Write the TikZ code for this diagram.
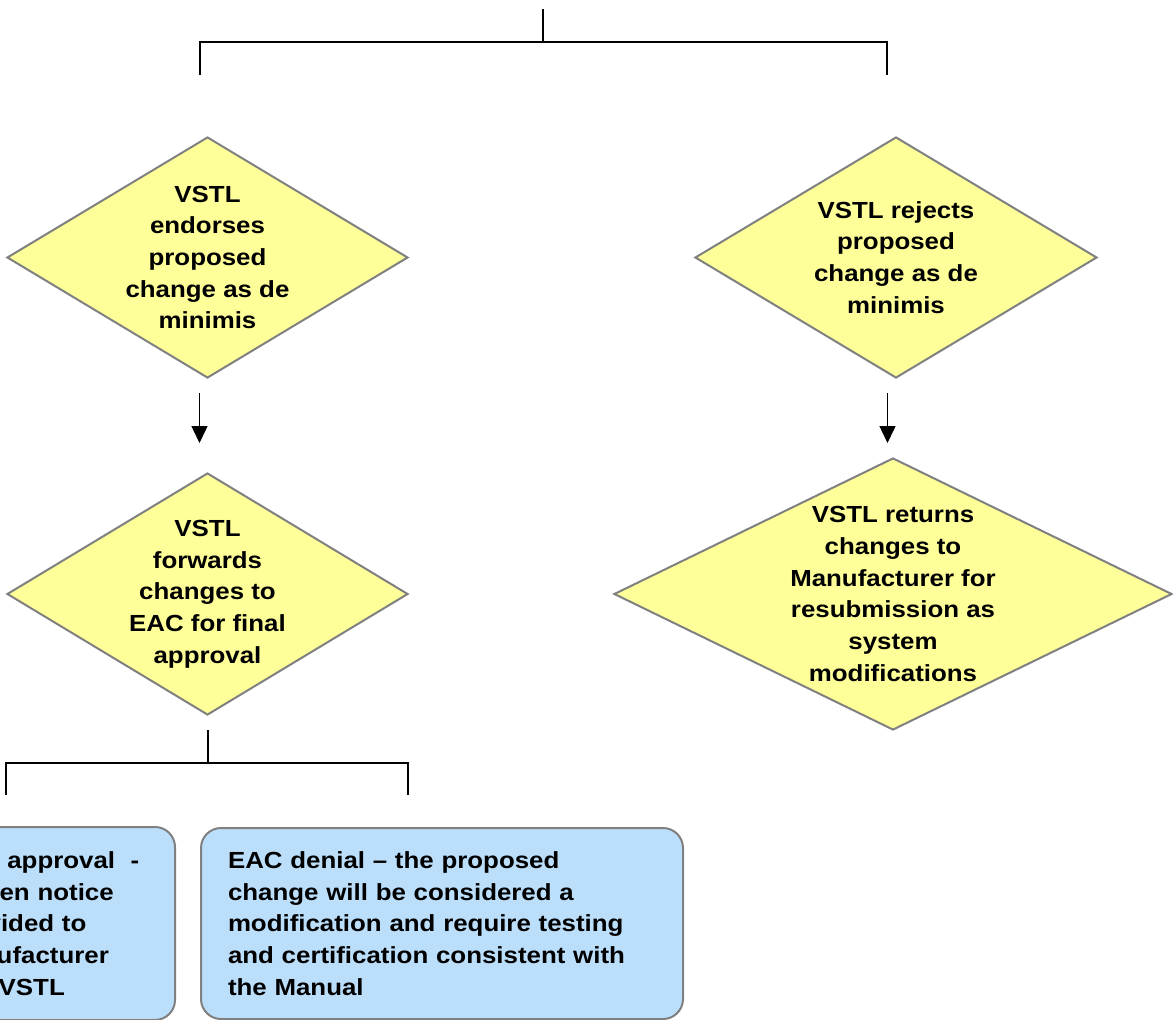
\documentclass[tikz,border=0pt]{standalone}
\usepackage{fontspec}
\setmainfont[FakeStretch=1.11]{Liberation Sans}
\usetikzlibrary{shapes.geometric,arrows.meta}
\definecolor{dfill}{RGB}{255,255,153}
\definecolor{bfill}{RGB}{187,222,251}
\definecolor{edgegray}{RGB}{128,128,128}
\begin{document}
\begin{tikzpicture}[x=1pt,y=-1pt,
  txt/.style={font=\bfseries\fontsize{23.3}{31.7}\selectfont},
  dec/.style={diamond, draw=edgegray, fill=dfill, line width=2pt, inner sep=0pt},
  res/.style={rectangle, rounded corners=20pt, draw=edgegray, fill=bfill, line width=2pt,
    inner sep=0pt, txt, align=left, anchor=north west},
  conn/.style={line width=1.5pt, black, line join=miter},
  arr/.style={conn, -{Triangle[length=17pt,width=16pt]}}]
\useasboundingbox (0,0) rectangle (1173,1020);
\clip (0,0) rectangle (1173,1020);

% decision diamonds
\node[dec, minimum width=401pt, minimum height=241pt,
  label={[txt,align=center]center:VSTL\\endorses\\proposed\\change as de\\minimis}]
  (d1) at (207.5,257.5) {};
\node[dec, minimum width=402pt, minimum height=241pt,
  label={[txt,align=center]center:VSTL rejects\\proposed\\change as de\\minimis}]
  (d2) at (896,257.5) {};
\node[dec, minimum width=401pt, minimum height=242pt,
  label={[txt,align=center]center:VSTL\\forwards\\changes to\\EAC for final\\approval}]
  (d3) at (207.5,594) {};
\node[dec, minimum width=558pt, minimum height=272pt,
  label={[txt,align=center]center:VSTL returns\\changes to\\Manufacturer for\\resubmission as\\system\\modifications}]
  (d4) at (893,594) {};

% result boxes
\node[res, minimum width=257pt, minimum height=193pt, text width=203pt]
  (b1) at (-83,826) {EAC approval\ \ -\\written notice\\provided to\\Manufacturer\\and VSTL};
\node[res, minimum width=482pt, minimum height=191pt, text width=428pt]
  (b2) at (200,827) {EAC denial -- the proposed\\change will be considered a\\modification and require testing\\and certification consistent with\\the Manual};

% top bracket
\coordinate (t0) at (543,9);
\coordinate (tj) at (543,42);
\coordinate (tl) at (200,42);
\coordinate (tr) at (887,42);
\coordinate (tla) at (200,75);
\coordinate (tra) at (887,75);
\draw[conn] (t0) -- (tj);
\draw[conn] (tla) -- (tl) -- (tr) -- (tra);

% arrows
\coordinate (a1s) at (199.5,393);
\coordinate (a1e) at (199.5,443);
\coordinate (a2s) at (887.5,393);
\coordinate (a2e) at (887.5,443);
\draw[arr] (a1s) -- (a1e);
\draw[arr] (a2s) -- (a2e);

% lower bracket
\coordinate (u0) at (208,730);
\coordinate (uj) at (208,763);
\coordinate (ul) at (6,763);
\coordinate (ur) at (408,763);
\coordinate (ula) at (6,795);
\coordinate (ura) at (408,795);
\draw[conn] (u0) -- (uj);
\draw[conn] (ula) -- (ul) -- (ur) -- (ura);
\end{tikzpicture}
\end{document}
